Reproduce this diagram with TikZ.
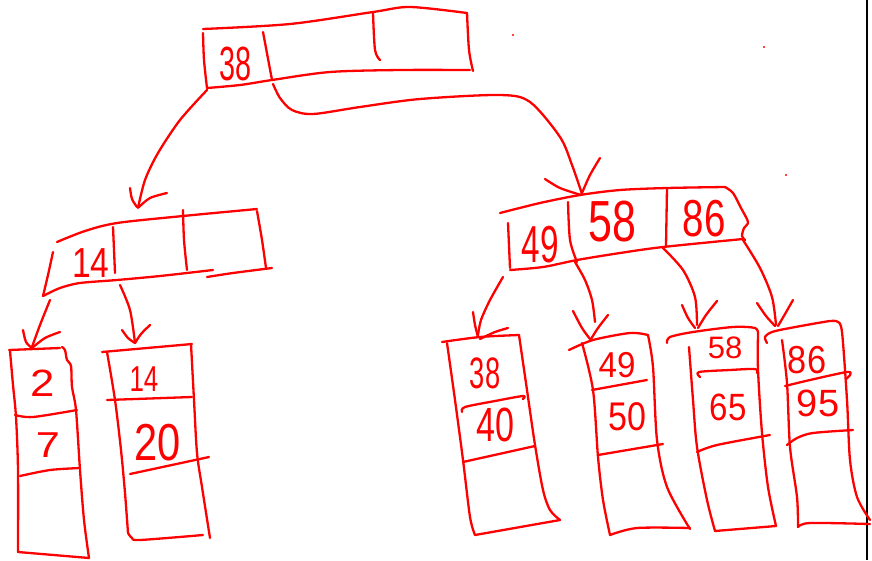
\documentclass[tikz,border=0pt]{standalone}
\usepackage{fontspec}
\setmainfont{Liberation Sans}
\newcommand\hn[3]{\fontsize{#1}{#1}\selectfont\scalebox{#2}[1]{#3}}
\tikzset{
  pen/.style={draw=red, line width=2.3pt, line cap=round, line join=round},
  num/.style={text=red, inner sep=0pt},
}
\begin{document}
\begin{tikzpicture}[x=1pt,y=-1pt]
\useasboundingbox (0,0) rectangle (872,560);
\fill[white] (0,0) rectangle (872,560);
% black edge line
\draw[black, line width=2.6pt] (867,0) -- (867,560);
% specks
\fill[red] (513,35) circle (1.1pt);
\fill[red] (764,47) circle (1.1pt);
\fill[red] (786,175) circle (1.1pt);

% ---------- root node ----------
\draw[pen] plot[smooth] coordinates {(203,29) (290,24) (373,12) (410,7) (467,13)};
\draw[pen] plot[smooth] coordinates {(203,33) (204,60) (207,88)};
\draw[pen] plot[smooth] coordinates {(207,88) (240,85) (272,80) (330,72) (400,70) (470,70)};
\draw[pen] (263,32) -- (272,80);
\draw[pen] plot[smooth] coordinates {(373,13) (375,50) (380,60)};
\draw[pen] plot[smooth] coordinates {(467,13) (469,50) (473,71)};
\node[num] (r38) at (236,64) {\hn{48}{0.6}{38}};

% ---------- root -> left ----------
\coordinate (rA1s) at (207,90);
\coordinate (rA1t) at (138,208);
\draw[pen] plot[smooth] coordinates {(rA1s) (180,120) (158,153) (145,180) (rA1t)};
\draw[pen] plot[smooth] coordinates {(130,188) (132,199) (137,207)};
\draw[pen] plot[smooth] coordinates {(167,193) (150,198) (139,207)};

% ---------- root -> right ----------
\coordinate (rA2s) at (273,84);
\coordinate (rA2t) at (582,194);
\draw[pen] plot[smooth] coordinates {(rA2s) (280,98) (292,110) (313,114) (360,107) (420,99) (500,95) (530,102) (560,137) (572,165) (rA2t)};
\draw[pen] plot[smooth] coordinates {(545,179) (560,188) (581,195)};
\draw[pen] plot[smooth] coordinates {(600,158) (590,175) (582,193)};

% ---------- node 49 58 86 ----------
\draw[pen] plot[smooth] coordinates {(500,213) (540,203) (580,195) (620,190) (667,188) (725,187)};
\draw[pen] plot[smooth] coordinates {(725,187) (733,193) (741,208) (748,222) (744,228) (742,236) (745,240)};
\draw[pen] (508,223) -- (510,268);
\draw[pen] plot[smooth] coordinates {(510,270) (543,267) (577,260) (620,253) (663,247) (743,239)};
\draw[pen] plot[smooth] coordinates {(568,202) (570,240) (577,262)};
\draw[pen] (667,188) -- (666,246);
\node[num] (n49) at (540,245) {\hn{52}{0.64}{49}};
\node[num] (n58) at (612,222) {\hn{58}{0.74}{58}};
\node[num] (n86) at (704,219) {\hn{52}{0.74}{86}};

% ---------- node 14 ----------
\draw[pen] plot[smooth] coordinates {(57,242) (85,231) (117,223) (183,216) (257,209)};
\draw[pen] plot[smooth] coordinates {(53,252) (48,275) (43,296)};
\draw[pen] plot[smooth] coordinates {(43,296) (60,288) (80,283) (117,280) (160,276) (213,270)};
\draw[pen] plot[smooth] coordinates {(207,277) (233,273) (272,268)};
\draw[pen] (113,227) -- (115,273);
\draw[pen] plot[smooth] coordinates {(183,210) (184,240) (187,270)};
\draw[pen] plot[smooth] coordinates {(257,211) (262,240) (266,268)};
\node[num] (n14) at (91,263) {\hn{42}{0.8}{14}};

% ---------- arrows from 14 ----------
\coordinate (aLs) at (50,300);
\coordinate (aLt) at (32,347);
\draw[pen] plot[smooth] coordinates {(aLs) (40,325) (aLt)};
\draw[pen] plot[smooth] coordinates {(23,330) (26,342) (32,348)};
\draw[pen] plot[smooth] coordinates {(60,332) (45,338) (32,348)};
\coordinate (aRs) at (120,285);
\coordinate (aRt) at (135,343);
\draw[pen] plot[smooth] coordinates {(aRs) (130,310) (aRt)};
\draw[pen] plot[smooth] coordinates {(122,330) (128,338) (135,343)};
\draw[pen] plot[smooth] coordinates {(150,325) (141,334) (135,343)};

% ---------- leaf 2 / 7 ----------
\draw[pen] (9,350) -- (60,348);
\draw[pen] plot[smooth] coordinates {(62,347) (65,350) (67,360) (71,366) (72,387) (76,410) (80,470) (84,520) (89,558)};
\draw[pen] plot[smooth] coordinates {(10,351) (13,385) (16,417) (18,470) (18,552)};
\draw[pen] (18,552) -- (89,558);
\draw[pen] plot[smooth] coordinates {(15,415) (33,417) (77,410)};
\draw[pen] plot[smooth] coordinates {(20,476) (50,470) (80,468)};
\node[num] (l2) at (43,383) {\hn{38}{1.15}{2}};
\node[num] (l7) at (48,445) {\hn{36}{1.2}{7}};

% ---------- leaf 14 / 20 ----------
\draw[pen] (102,352) -- (192,344);
\draw[pen] plot[smooth] coordinates {(107,352) (115,400) (121,450) (125,493) (128,533)};
\draw[pen] plot[smooth] coordinates {(191,344) (194,400) (197,453) (202,487) (210,538)};
\draw[pen] plot[smooth] coordinates {(128,533) (132,538) (140,540) (203,535)};
\draw[pen] (107,400) -- (192,397);
\draw[pen] (130,474) -- (209,457);
\node[num] (l14) at (144,379) {\hn{36}{0.72}{14}};
\node[num] (l20) at (158,443) {\hn{52}{0.8}{20}};

% ---------- arrows from 49 58 86 ----------
\coordinate (b1s) at (503,277);
\coordinate (b1t) at (478,335);
\draw[pen] plot[smooth] coordinates {(b1s) (490,300) (481,320) (b1t)};
\draw[pen] plot[smooth] coordinates {(473,312) (475,325) (478,337)};
\draw[pen] plot[smooth] coordinates {(508,328) (495,332) (480,339)};

\coordinate (b2s) at (575,262);
\coordinate (b2t) at (595,322);
\draw[pen] plot[smooth] coordinates {(b2s) (585,280) (592,300) (b2t)};
\draw[pen] plot[smooth] coordinates {(573,311) (582,328) (590,339)};
\draw[pen] plot[smooth] coordinates {(608,315) (598,328) (591,339)};

\coordinate (b3s) at (663,248);
\coordinate (b3t) at (697,325);
\draw[pen] plot[smooth] coordinates {(b3s) (683,270) (695,297) (b3t)};
\draw[pen] plot[smooth] coordinates {(682,305) (688,318) (695,328)};
\draw[pen] plot[smooth] coordinates {(717,301) (706,315) (698,328)};

\coordinate (b4s) at (743,240);
\coordinate (b4t) at (776,325);
\draw[pen] plot[smooth] coordinates {(b4s) (760,268) (772,297) (b4t)};
\draw[pen] plot[smooth] coordinates {(757,303) (766,316) (775,326)};
\draw[pen] plot[smooth] coordinates {(793,300) (785,314) (778,326)};

% ---------- leaf 38 / 40 ----------
\draw[pen] plot[smooth] coordinates {(442,342) (480,337) (519,335)};
\draw[pen] plot[smooth] coordinates {(447,343) (455,400) (463,460) (470,517) (475,535)};
\draw[pen] plot[smooth] coordinates {(519,335) (527,390) (535,445) (543,490) (550,510) (560,520)};
\draw[pen] (475,535) -- (560,520);
\draw[pen] plot[smooth] coordinates {(462,412) (465,407) (495,401) (523,396) (523,399)};
\draw[pen] (463,462) -- (535,446);
\node[num] (l38) at (485,373) {\hn{44}{0.62}{38}};
\node[num] (l40) at (495,425) {\hn{48}{0.71}{40}};

% ---------- leaf 49 / 50 ----------
\draw[pen] plot[smooth] coordinates {(569,350) (593,340) (630,333) (648,335)};
\draw[pen] plot[smooth] coordinates {(582,343) (593,390) (598,457) (603,500) (610,535)};
\draw[pen] plot[smooth] coordinates {(648,335) (653,367) (657,440) (667,487) (690,529)};
\draw[pen] plot[smooth] coordinates {(610,535) (637,528) (690,528)};
\draw[pen] (592,390) -- (647,380);
\draw[pen] (598,455) -- (663,444);
\node[num] (l49) at (617,365) {\hn{36}{0.92}{49}};
\node[num] (l50) at (627,417) {\hn{40}{0.85}{50}};

% ---------- leaf 58 / 65 ----------
\draw[pen] plot[smooth] coordinates {(667,343) (670,337) (693,332) (733,327) (755,328) (758,334)};
\draw[pen] plot[smooth] coordinates {(758,334) (758,370) (762,433) (768,487) (776,526)};
\draw[pen] plot[smooth] coordinates {(689,347) (693,400) (697,447) (707,500) (715,531)};
\draw[pen] (715,531) -- (776,526);
\draw[pen] plot[smooth] coordinates {(700,377) (699,372) (730,370) (755,369) (757,373)};
\draw[pen] plot[smooth] coordinates {(697,452) (717,445) (770,435)};
\node[num] (l58) at (725,348) {\hn{31}{1.0}{58}};
\node[num] (l65) at (728,407) {\hn{38}{0.87}{65}};

% ---------- leaf 86 / 95 ----------
\draw[pen] plot[smooth] coordinates {(767,343) (765,337) (772,332) (790,328) (830,321) (838,322)};
\draw[pen] plot[smooth] coordinates {(838,322) (842,332) (847,400) (850,460) (857,497) (870,520)};
\draw[pen] plot[smooth] coordinates {(782,340) (787,383) (790,447) (797,497) (798,527)};
\draw[pen] plot[smooth] coordinates {(798,527) (810,523) (870,524)};
\draw[pen] plot[smooth] coordinates {(785,386) (810,380) (847,372) (850,375) (846,379)};
\draw[pen] plot[smooth] coordinates {(787,445) (797,438) (813,433) (853,430)};
\node[num] (l86) at (807,360) {\hn{39}{0.88}{86}};
\node[num] (l95) at (818,403) {\hn{38}{1.0}{95}};
\end{tikzpicture}
\end{document}
